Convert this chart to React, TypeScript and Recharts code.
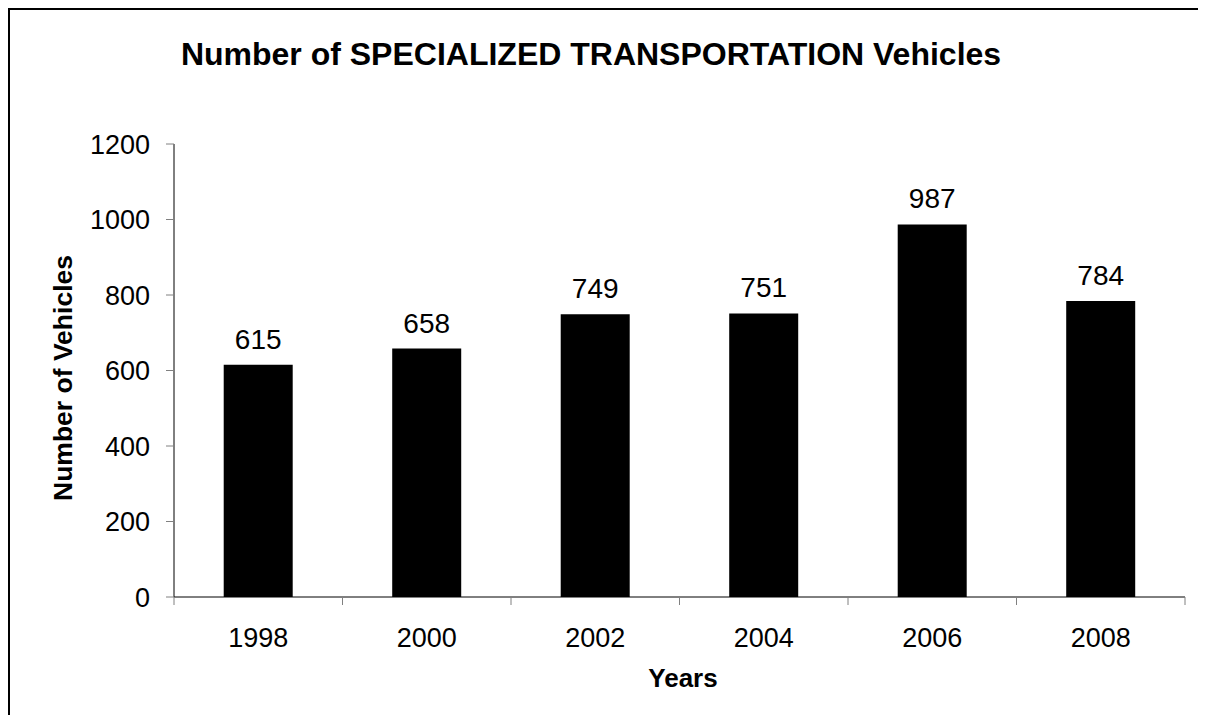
import React from 'react';
import { BarChart, Bar, XAxis, YAxis, LabelList, Label } from 'recharts';

const years = ['1998', '2000', '2002', '2004', '2006', '2008'];
const vehicles = [615, 658, 749, 751, 987, 784];
const yTicks = [0, 200, 400, 600, 800, 1000, 1200];

const data = years.map((year, i) => ({ year, vehicles: vehicles[i] }));

const FONT = '"Liberation Sans", Arial, Helvetica, sans-serif';

// category ticks: label in the middle of the band, tick mark on the band edges
const YearTick = (props: any) => {
  const { x, y, payload, index, visibleTicksCount, width } = props;
  const half = payload?.offset ?? width / (2 * (visibleTicksCount || years.length));
  const last = index === (visibleTicksCount || years.length) - 1;
  return (
    <g>
      <line x1={x - half} y1={y} x2={x - half} y2={y + 8} stroke="#808080" />
      {last && <line x1={x + half} y1={y} x2={x + half} y2={y + 8} stroke="#808080" />}
      <text x={x} y={y + 50} textAnchor="middle" fontSize={27} fontFamily={FONT} fill="#000">
        {payload.value}
      </text>
    </g>
  );
};

const App: React.FC = () => {
  return (
    <div
      style={{
        position: 'relative',
        width: 1196,
        height: 705,
        borderTop: '2px solid #000',
        borderLeft: '2px solid #000',
        background: '#fff',
        overflow: 'hidden',
      }}
    >
      <style>{'html,body{overflow:hidden;}'}</style>
      <BarChart
        width={1196}
        height={705}
        data={data}
        margin={{ top: 134, right: 21, bottom: 58, left: 84 }}
        barCategoryGap="29.5%"
      >
        <XAxis
          dataKey="year"
          height={60}
          axisLine={{ stroke: '#000' }}
          tickLine={false}
          tickSize={0}
          tickMargin={0}
          interval={0}
          tick={<YearTick />}
        >
          <Label
            content={() => (
              <text x={673} y={677} textAnchor="middle" fontSize={26} fontWeight="bold" fontFamily={FONT} fill="#000">
                Years
              </text>
            )}
          />
        </XAxis>
        <YAxis
          width={80}
          domain={[0, 1200]}
          ticks={yTicks}
          interval={0}
          axisLine={{ stroke: '#000' }}
          tickLine={{ stroke: '#808080' }}
          tickSize={8}
          tickMargin={16}
          tick={{ fontSize: 27, fontFamily: FONT, fill: '#000' }}
        >
          <Label
            content={() => (
              <g>
                <text x={581} y={55} textAnchor="middle" fontSize={32} fontWeight="bold" fontFamily={FONT} fill="#000">
                  Number of SPECIALIZED TRANSPORTATION Vehicles
                </text>
                <text
                  transform="translate(62,368) rotate(-90)"
                  textAnchor="middle"
                  fontSize={26.5}
                  fontWeight="bold"
                  fontFamily={FONT}
                  fill="#000"
                >
                  Number of Vehicles
                </text>
              </g>
            )}
          />
        </YAxis>
        <Bar dataKey="vehicles" fill="#000" isAnimationActive={false}>
          <LabelList
            dataKey="vehicles"
            position="top"
            offset={16}
            style={{ fontSize: 28, fontFamily: FONT, fill: '#000' }}
          />
        </Bar>
      </BarChart>
    </div>
  );
};

export default App;
